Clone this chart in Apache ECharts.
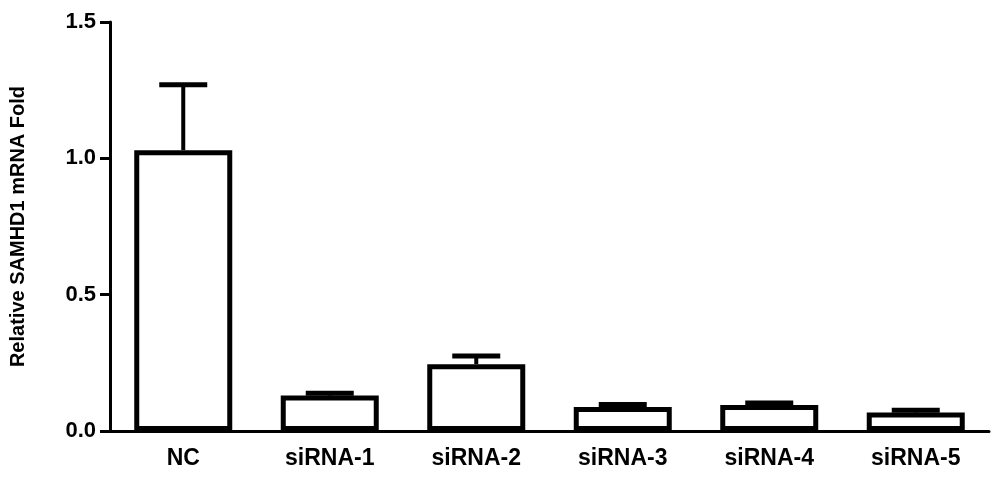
<!DOCTYPE html>
<html><head><meta charset="utf-8">
<script src="https://cdn.jsdelivr.net/npm/echarts@6/dist/echarts.min.js"></script>
<style>html,body{margin:0;background:#fff}#c{width:1000px;height:484px}</style>
</head><body><div id="c"></div>
<script>
const categories = ['NC','siRNA-1','siRNA-2','siRNA-3','siRNA-4','siRNA-5'];
const means = [1.03, 0.13, 0.245, 0.088, 0.095, 0.068];
const errTops = [1.27, 0.138, 0.275, 0.097, 0.103, 0.076];
const yTicks = [0, 0.5, 1.0, 1.5];

const chart = echarts.init(document.getElementById('c'));
const font = {fontFamily:'Liberation Sans Narrow, Liberation Sans', fontWeight:'bold', color:'#000'};
chart.setOption({
  animation:false,
  grid:{left:107, right:11, top:22, bottom:53},
  xAxis:{type:'category', data:categories,
    axisLine:{lineStyle:{color:'#000', width:3}},
    axisTick:{alignWithLabel:true, length:10, lineStyle:{color:'#000', width:3}},
    axisLabel:Object.assign({fontSize:23, margin:16}, font)},
  yAxis:{type:'value', min:0, max:1.5, interval:0.5,
    name:'Relative SAMHD1 mRNA Fold', nameLocation:'middle', nameGap:82,
    nameTextStyle:Object.assign({fontSize:20}, font),
    axisLine:{show:true, lineStyle:{color:'#000', width:3}},
    axisTick:{show:true, length:10, lineStyle:{color:'#000', width:3}},
    splitLine:{show:false},
    axisLabel:Object.assign({fontSize:22, margin:14, formatter:v=>v.toFixed(1)}, font)},
  series:[
    {type:'custom', z:1, data:categories.map((c,i)=>[i, means[i], errTops[i]]),
      renderItem:(p,api)=>{
        const b=api.coord([api.value(0), api.value(1)]);
        const t=api.coord([api.value(0), api.value(2)]);
        return {type:'group', children:[
          {type:'line', shape:{x1:b[0],y1:b[1],x2:t[0],y2:t[1]}, style:{stroke:'#000', lineWidth:4}},
          {type:'line', shape:{x1:t[0]-24,y1:t[1],x2:t[0]+24,y2:t[1]}, style:{stroke:'#000', lineWidth:5}}
        ]};
      }},
    {type:'bar', z:2, data:means, barWidth:98,
      itemStyle:{color:'#fff', borderColor:'#000', borderWidth:5}}
  ]
});
</script></body></html>
